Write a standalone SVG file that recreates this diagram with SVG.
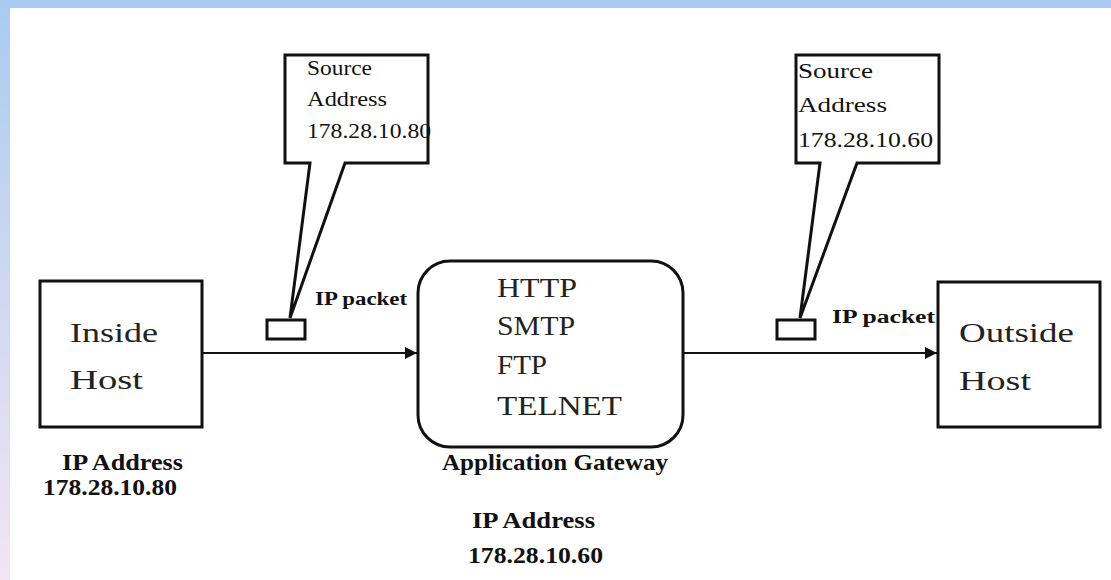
<svg xmlns="http://www.w3.org/2000/svg" width="1111" height="580" viewBox="0 0 1111 580">
<defs>
<linearGradient id="side" x1="0" y1="0" x2="0" y2="1">
<stop offset="0" stop-color="#A9CBF1"/>
<stop offset="0.5" stop-color="#CFD8F0"/>
<stop offset="1" stop-color="#F3E4F4"/>
</linearGradient>
<marker id="arr" viewBox="0 0 10 10" refX="10" refY="5" markerWidth="16" markerHeight="12" markerUnits="userSpaceOnUse" orient="auto">
<path d="M0,0 L10,5 L0,10 z" fill="#111"/>
</marker>
<style>
.box{fill:#fff;stroke:#111;stroke-width:3}
.ln{fill:none;stroke:#111;stroke-width:2}
text{lengthAdjust:spacingAndGlyphs}
.big{font-family:"Liberation Serif",serif;font-size:28px;fill:#222}
.lbl{font-family:"Liberation Serif",serif;font-size:23px;font-weight:bold;fill:#111}
.co{font-family:"Liberation Serif",serif;font-size:22px;fill:#111}
.pk{font-family:"Liberation Serif",serif;font-size:18px;font-weight:bold;fill:#111}
</style>
</defs>
<rect x="0" y="0" width="1111" height="580" fill="#fff"/>
<rect x="0" y="0" width="10" height="580" fill="url(#side)"/>
<rect x="0" y="0" width="1111" height="8" fill="#A9CBF1"/>

<g id="connectors">
<line class="ln" x1="202" y1="353" x2="417" y2="353" marker-end="url(#arr)"/>
<line class="ln" x1="683" y1="353" x2="937" y2="353" marker-end="url(#arr)"/>
</g>

<g id="inside-host">
<rect class="box" x="40" y="281" width="162" height="146"/>
<text class="big" x="70" y="342" textLength="88" lengthAdjust="spacingAndGlyphs">Inside</text>
<text class="big" x="70" y="389" textLength="73" lengthAdjust="spacingAndGlyphs">Host</text>
<text class="lbl" x="62" y="470" textLength="121" lengthAdjust="spacingAndGlyphs">IP Address</text>
<text class="lbl" x="43" y="495" textLength="134" lengthAdjust="spacingAndGlyphs">178.28.10.80</text>
</g>

<g id="gateway">
<rect class="box" x="418" y="261" width="265" height="186" rx="32" ry="32"/>
<text class="big" x="497" y="297" textLength="80" lengthAdjust="spacingAndGlyphs">HTTP</text>
<text class="big" x="497" y="335" textLength="78" lengthAdjust="spacingAndGlyphs">SMTP</text>
<text class="big" x="497" y="374" textLength="50" lengthAdjust="spacingAndGlyphs">FTP</text>
<text class="big" x="497" y="415" textLength="125" lengthAdjust="spacingAndGlyphs">TELNET</text>
<text class="lbl" x="442" y="470" textLength="226" lengthAdjust="spacingAndGlyphs">Application Gateway</text>
<text class="lbl" x="472" y="528" textLength="123" lengthAdjust="spacingAndGlyphs">IP Address</text>
<text class="lbl" x="468" y="563" textLength="135" lengthAdjust="spacingAndGlyphs">178.28.10.60</text>
</g>

<g id="outside-host">
<rect class="box" x="938" y="282" width="162" height="145"/>
<text class="big" x="959" y="342" textLength="115" lengthAdjust="spacingAndGlyphs">Outside</text>
<text class="big" x="959" y="390" textLength="72" lengthAdjust="spacingAndGlyphs">Host</text>
</g>

<g id="callout-left">
<path class="box" d="M310,163 L285,163 L285,55 L428,55 L428,163 L345,163 L290,318 Z"/>
<rect class="box" x="267" y="320" width="38" height="19" stroke-width="2.5"/>
<text class="co" x="307" y="75" textLength="65" lengthAdjust="spacingAndGlyphs">Source</text>
<text class="co" x="307" y="106" textLength="80" lengthAdjust="spacingAndGlyphs">Address</text>
<text class="co" x="307" y="138" textLength="124" lengthAdjust="spacingAndGlyphs">178.28.10.80</text>
<text class="pk" x="315" y="305" textLength="92" lengthAdjust="spacingAndGlyphs">IP packet</text>
</g>

<g id="callout-right">
<path class="box" d="M820,163 L796,163 L796,55 L939,55 L939,163 L857,163 L800,318 Z"/>
<rect class="box" x="777" y="320" width="38" height="19" stroke-width="2.5"/>
<text class="co" x="798" y="78" textLength="75" lengthAdjust="spacingAndGlyphs">Source</text>
<text class="co" x="798" y="112" textLength="89" lengthAdjust="spacingAndGlyphs">Address</text>
<text class="co" x="798" y="147" textLength="135" lengthAdjust="spacingAndGlyphs">178.28.10.60</text>
<text class="pk" x="832" y="323" textLength="103" lengthAdjust="spacingAndGlyphs">IP packet</text>
</g>
</svg>
